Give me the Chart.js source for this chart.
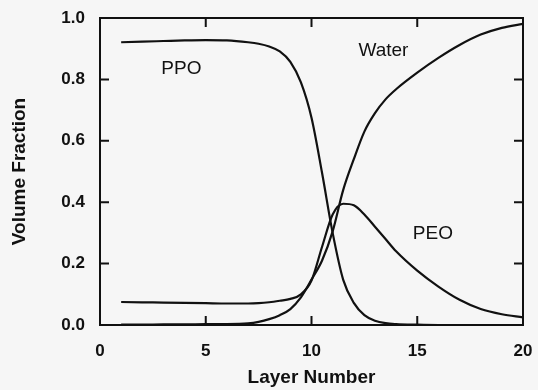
<!DOCTYPE html>
<html>
<head>
<meta charset="utf-8">
<script src="https://cdn.jsdelivr.net/npm/chart.js"></script>
<style>
html,body{margin:0;padding:0;background:#f6f6f6;}
#box{width:538px;height:390px;}
</style>
</head>
<body>
<div id="box"><canvas id="grafico"></canvas></div>
<script>
const camadas = [1,2,3,4,5,6,7,7.5,8,8.5,9,9.5,10,10.5,11,11.5,12,12.5,13,13.5,14,15,16,17,18,19,20];
const ppo = [0.921,0.923,0.925,0.927,0.928,0.927,0.921,0.916,0.907,0.891,0.857,0.79,0.675,0.495,0.30,0.147,0.072,0.032,0.014,0.006,0.003,0.001,0,0,0,0,0];
const agua = [0.001,0.001,0.002,0.002,0.003,0.003,0.005,0.01,0.019,0.032,0.052,0.09,0.148,0.21,0.305,0.44,0.54,0.63,0.69,0.735,0.768,0.822,0.87,0.912,0.946,0.968,0.981];
const peo = [0.075,0.074,0.073,0.072,0.071,0.07,0.07,0.071,0.074,0.079,0.085,0.1,0.145,0.255,0.36,0.395,0.39,0.36,0.32,0.28,0.24,0.177,0.125,0.082,0.052,0.035,0.025];
const nomes = ["PPO","Water","PEO"];

const cor = "#111";

function pontos(valores){
return camadas.map((c,i)=>({x:c,y:valores[i]}));
}

function serie(nome, valores){
return {
label:nome,
data:pontos(valores),
borderColor:cor,
borderWidth:2.2,
pointRadius:0,
fill:false,
cubicInterpolationMode:"monotone"
};
}

// moldura com marcas para dentro nos quatro lados + nomes das curvas
const moldura = {
id:"moldura",
afterDatasetsDraw(chart){
const ctx = chart.ctx;
const a = chart.chartArea;
const x = chart.scales.x;
const y = chart.scales.y;
const tam = 9;

ctx.save();
ctx.strokeStyle = cor;
ctx.lineWidth = 2;
ctx.strokeRect(a.left, a.top, a.right-a.left, a.bottom-a.top);

ctx.beginPath();
x.ticks.forEach(t=>{
if(t.value<=x.min || t.value>=x.max) return;
const px = x.getPixelForValue(t.value);
ctx.moveTo(px, a.bottom); ctx.lineTo(px, a.bottom-tam);
ctx.moveTo(px, a.top); ctx.lineTo(px, a.top+tam);
});
y.ticks.forEach(t=>{
if(t.value<=y.min || t.value>=y.max) return;
const py = y.getPixelForValue(t.value);
ctx.moveTo(a.left, py); ctx.lineTo(a.left+tam, py);
ctx.moveTo(a.right, py); ctx.lineTo(a.right-tam, py);
});
ctx.stroke();

const lugares = [[3.85,0.835],[13.4,0.894],[15.74,0.298]];
ctx.fillStyle = cor;
ctx.font = "19px 'Liberation Sans', Arial, sans-serif";
ctx.textAlign = "center";
ctx.textBaseline = "middle";
nomes.forEach((n,i)=>{
ctx.fillText(n, x.getPixelForValue(lugares[i][0]), y.getPixelForValue(lugares[i][1]));
});
ctx.restore();
}
};

const fonteEixo = {family:"'Liberation Sans', Arial, sans-serif", size:17, weight:"bold"};
const fonteTitulo = {family:"'Liberation Sans', Arial, sans-serif", size:19, weight:"bold"};

new Chart(document.getElementById("grafico"),{
type:"line",
data:{
datasets:[
serie(nomes[0], ppo),
serie(nomes[1], agua),
serie(nomes[2], peo)
]
},
options:{
responsive:true,
maintainAspectRatio:false,
animation:false,
layout:{padding:{top:18,right:15,left:0,bottom:0}},
plugins:{
legend:{display:false},
tooltip:{enabled:false}
},
scales:{
x:{
type:"linear",
min:0,
max:20,
afterFit(s){ s.height = 65; s.paddingLeft = 0; s.paddingRight = 0; },
grid:{display:false, drawTicks:false},
border:{display:false},
ticks:{stepSize:5, color:cor, font:fonteEixo, padding:16, maxRotation:0},
title:{display:true, text:"Layer Number", color:cor, font:fonteTitulo, padding:{top:0,bottom:1}}
},
y:{
min:0,
max:1,
afterFit(s){ s.width = 100; s.paddingTop = 0; s.paddingBottom = 0; },
grid:{display:false, drawTicks:false},
border:{display:false},
ticks:{stepSize:0.2, color:cor, font:fonteEixo, padding:15,
callback:v=>v.toFixed(1)},
title:{display:true, text:"Volume Fraction", color:cor, font:fonteTitulo, padding:{top:8,bottom:0}}
}
}
},
plugins:[moldura]
});
</script>
</body>
</html>
